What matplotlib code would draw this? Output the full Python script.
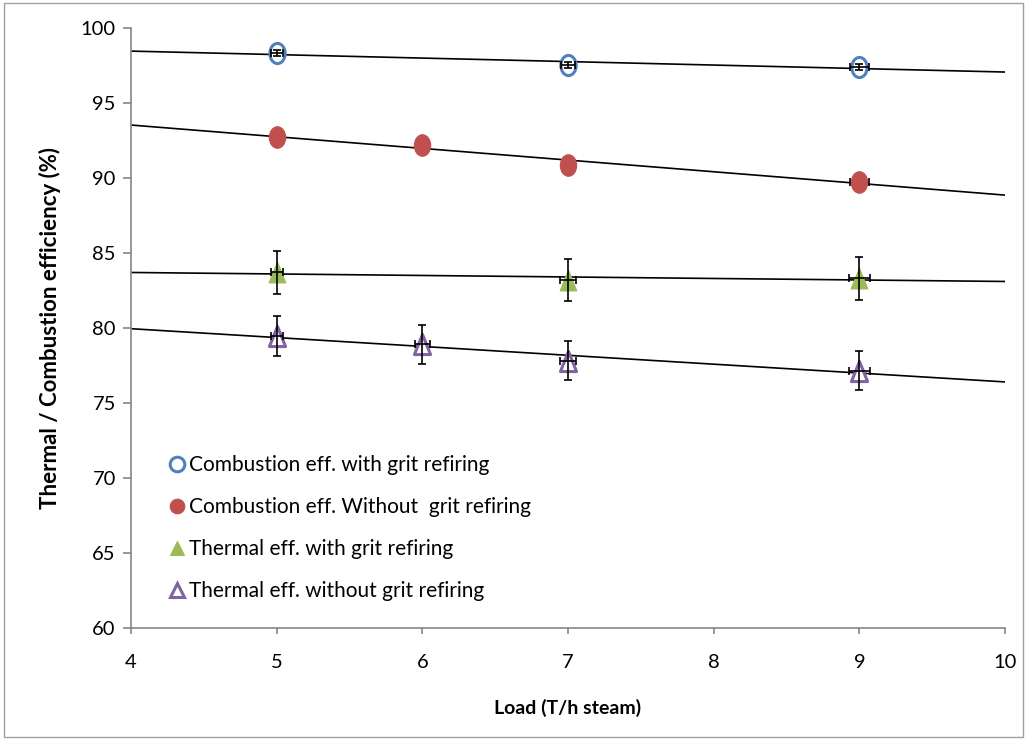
import numpy as np
import matplotlib
matplotlib.use("Agg")
import matplotlib.pyplot as plt
from matplotlib.patches import Rectangle
from matplotlib.path import Path
from matplotlib.transforms import Affine2D

# Load (T/h steam) and efficiency measurements
load_a = [5, 7, 9]
comb_with = [98.33, 97.55, 97.4]
comb_with_yerr = [0.2, 0.2, 0.2]
comb_with_xerr = [0.04, 0.05, 0.065]

load_b = [5, 6, 7, 9]
comb_without = [92.75, 92.2, 90.85, 89.75]
comb_without_yerr = [0.1, 0.1, 0.1, 0.1]
comb_without_xerr = [0.03, 0.03, 0.035, 0.065]

therm_with = [83.7, 83.2, 83.3]
therm_with_yerr = [1.45, 1.4, 1.45]
therm_with_xerr = [0.04, 0.055, 0.07]

therm_without = [79.45, 78.9, 77.8, 77.15]
therm_without_yerr = [1.35, 1.3, 1.3, 1.3]
therm_without_xerr = [0.04, 0.05, 0.055, 0.07]

labels = [
    "Combustion eff. with grit refiring",
    "Combustion eff. Without  grit refiring",
    "Thermal eff. with grit refiring",
    "Thermal eff. without grit refiring",
]

# slightly tall markers
ellipse = Affine2D().scale(0.76, 1.0).transform_path(Path.unit_circle())
tall_tri = Path([(0, 1), (-0.8, -1), (0.8, -1), (0, 1)],
                [Path.MOVETO, Path.LINETO, Path.LINETO, Path.CLOSEPOLY])

fig = plt.figure(figsize=(10.27, 7.40), dpi=100)
ax = fig.add_axes([0.1276, 0.1514, 0.851, 0.8108])

x_line = np.array([4.0, 10.0])

series = [
    (load_a, comb_with, comb_with_xerr, comb_with_yerr,
     dict(marker=ellipse, mfc="white", mec="#4F81BD", mew=2.2, ms=14.5), 4),
    (load_b, comb_without, comb_without_xerr, comb_without_yerr,
     dict(marker=ellipse, mfc="#C0504D", mec="#C0504D", mew=0.8, ms=15.5), 2.5),
    (load_a, therm_with, therm_with_xerr, therm_with_yerr,
     dict(marker=tall_tri, mfc="#9BBB59", mec="#9BBB59", mew=0.8, ms=15), 4),
    (load_b, therm_without, therm_without_xerr, therm_without_yerr,
     dict(marker=tall_tri, mfc="white", mec="#8064A2", mew=2.2, ms=14.5), 4),
]

legend_markers = ["o", "o", "^", "^"]
handles = []
for (x, y, xe, ye, style, ez), lab, lm in zip(series, labels, legend_markers):
    # linear trendline through each series
    coef = np.polyfit(x, y, 1)
    ax.plot(x_line, np.polyval(coef, x_line), color="black", lw=1.2, zorder=2)
    ax.plot(x, y, linestyle="none", zorder=3, **style)
    lstyle = dict(style)
    lstyle["marker"] = lm
    lstyle["ms"] = 10.5
    h, = ax.plot([], [], linestyle="none", label=lab, **lstyle)
    handles.append(h)
    ax.errorbar(x, y, xerr=xe, yerr=ye, fmt="none", ecolor="black",
                elinewidth=1.2, capsize=2.8, capthick=1.2, zorder=ez)

ax.set_xlim(4, 10)
ax.set_ylim(60, 100)
ax.set_xticks(range(4, 11))
ax.set_yticks(range(60, 101, 5))
for s in ("top", "right"):
    ax.spines[s].set_visible(False)
for s in ("left", "bottom"):
    ax.spines[s].set_color("#868686")
    ax.spines[s].set_linewidth(1.2)
ax.tick_params(axis="both", direction="out", width=1.2,
               color="#868686", labelcolor="black")
ax.tick_params(axis="y", length=6, pad=5)
ax.tick_params(axis="x", length=4, pad=15)
for t in ax.get_xticklabels() + ax.get_yticklabels():
    t.set_fontfamily("Lato")
    t.set_fontsize(14.5)

ax.set_xlabel("Load (T/h steam)", fontsize=14, fontweight="bold",
              family="Lato", labelpad=20)
ax.set_ylabel("Thermal / Combustion efficiency (%)", fontsize=16,
              fontweight="bold", family="Lato", labelpad=14)

leg = ax.legend(handles=handles, loc="center left",
                bbox_to_anchor=(0.046, 0.166), frameon=False,
                prop={"family": "Lato", "size": 15},
                handlelength=0.6, handletextpad=0.25, labelspacing=1.06,
                borderpad=0, borderaxespad=0)

# thin outline around the whole figure
fig.patches.append(Rectangle((0.004, 0.004), 0.992, 0.992,
                             transform=fig.transFigure, fill=False,
                             edgecolor="#A0A0A0", lw=1.0))

fig.savefig("out.png", dpi=100)
